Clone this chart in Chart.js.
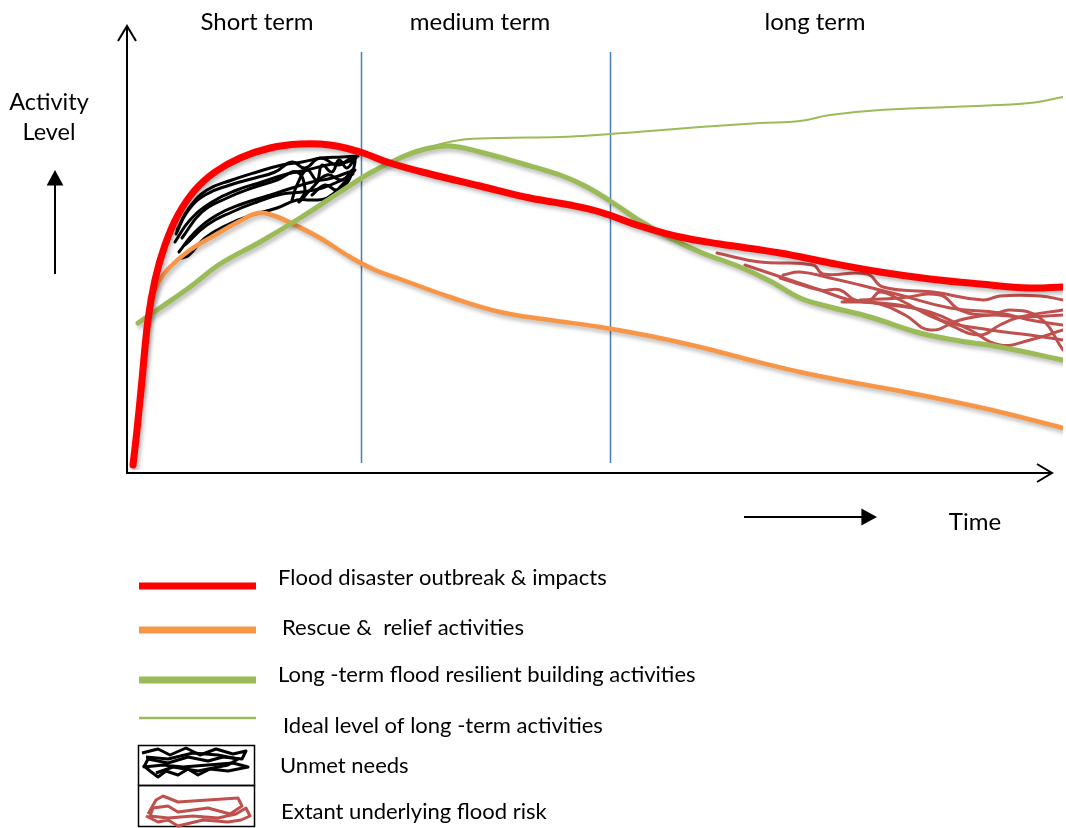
<!DOCTYPE html>
<html>
<head>
<meta charset="utf-8">
<script src="https://cdn.jsdelivr.net/npm/chart.js@4.4.1/dist/chart.umd.min.js"></script>
<style>
html,body{margin:0;padding:0;background:#fff;}
canvas{display:block;}
</style>
</head>
<body>
<canvas id="c" width="1066" height="828"></canvas>
<script>
// ---- DATA (time units, activity units) ----
const phaseLabels = ["Short term", "medium term", "long term"];
const phaseLabelX = [130, 353, 688];
const phaseBoundaries = [234, 483];

const floodImpact = [[6,5],[10,40],[15,90],[21,150],[28,190],[38,225],[51,255],[68,280],[88,298],[113,312],[143,322],[173,326],[203,325],[233,318],[263,307],[303,296],[353,284],[403,272],[443,265],[473,258],[513,244],[553,233],[593,226],[653,217],[703,207],[753,198],[803,191],[853,186],[903,182],[936,183]];
const rescueRelief = [[13,75],[17,120],[23,165],[31,187],[43,203],[63,220],[88,235],[113,249],[131,257],[148,254],[168,245],[193,232],[223,213],[248,200],[273,191],[323,173],[373,158],[423,150],[473,143],[523,134],[573,123],[623,110],[673,98],[723,88],[773,79],[823,69],[873,58],[936,42]];
const resilientBuilding = [[11,147],[33,162],[63,183],[93,206],[133,228],[173,252],[213,278],[243,297],[273,312],[298,321],[323,324],[353,318],[393,307],[433,295],[458,284],[483,269],[513,249],[543,232],[573,218],[613,203],[643,189],[673,172],[703,163],[743,153],[793,137],[833,129],[873,123],[936,110]];
const idealLevel = [[273,312],[303,323],[333,330],[373,332],[433,333],[483,336],[523,339],[573,343],[633,347],[673,349],[703,355],[753,360],[823,363],[903,367],[936,373]];

const unmetNeeds = [
  [[50,240],[62,262],[80,280],[105,290],[130,298],[155,305],[175,308],[195,312],[215,313],[231,314]],
  [[48,228],[63,250],[85,268],[110,280],[135,288],[160,296],[180,300],[200,305],[220,308],[229,312]],
  [[52,218],[68,238],[90,255],[115,266],[140,274],[165,282],[185,288],[205,292],[222,298]],
  [[228,300],[215,285],[200,272],[185,270],[170,270],[150,262],[125,255],[100,245],[78,232],[62,215],[55,212]],
  [[165,270],[170,285],[180,300],[190,290],[195,305],[205,298],[212,310],[220,302],[228,312],[222,290],[210,280],[198,285],[185,275]],
  [[55,232],[75,258],[100,272],[125,282],[150,290],[170,298],[178,280],[172,268],[185,282],[200,295],[215,290],[225,300]],
  [[49,236],[60,258],[78,275],[103,285],[128,292],[148,298],[165,308],[178,302],[193,312],[211,305],[225,313]],
  [[58,225],[80,245],[105,258],[130,268],[155,276],[175,278],[195,282],[215,290],[226,296]]
];
const floodRisk = [
  [[590,217],[633,208],[686,205],[696,196],[740,196],[756,183],[806,178],[856,170],[873,174],[913,174],[936,170]],
  [[618,205],[663,190],[693,180],[723,170],[753,166],[778,155],[803,140],[833,150],[863,155],[893,153],[936,155]],
  [[656,195],[673,198],[703,192],[733,185],[773,175],[823,162],[873,157],[903,150],[936,145]],
  [[653,192],[693,180],[713,180],[728,170],[743,170],[753,178],[773,170],[813,150],[863,140],[903,135],[936,130]],
  [[715,168],[753,167],[793,160],[823,145],[853,135],[873,145],[893,153],[936,160]],
  [[718,170],[763,165],[803,158],[843,140],[873,125],[903,130],[936,140]],
  [[733,170],[773,172],[813,175],[833,160],[863,155],[883,160],[913,152],[936,120]]
];

const legendItems = [
  {text:"Flood disaster outbreak & impacts", color:"#ff0000", width:7},
  {text:"Rescue &  relief activities", color:"#f79646", width:7},
  {text:"Long -term flood resilient building activities", color:"#9bbb59", width:7},
  {text:"Ideal level of long -term activities", color:"#9bbb59", width:2.5}
];
const legendBoxItems = ["Unmet needs", "Extant underlying flood risk"];

const FONT = "Lato, 'Open Sans', sans-serif";
const toPts = a => a.map(p => ({x:p[0], y:p[1]}));

const datasets = [];
datasets.push({label:"Flood disaster outbreak & impacts", data:toPts(floodImpact), borderColor:"#ff0000", borderWidth:7, tension:0.4, order:0, shadow:true});
datasets.push({label:"Ideal level of long-term activities", data:toPts(idealLevel), borderColor:"#9bbb59", borderWidth:2, tension:0.4, order:1});
datasets.push({label:"Long-term flood resilient building activities", data:toPts(resilientBuilding), borderColor:"#9bbb59", borderWidth:5, tension:0.4, order:2, shadow:true});
datasets.push({label:"Rescue & relief activities", data:toPts(rescueRelief), borderColor:"#f79646", borderWidth:4.5, tension:0.4, order:3, shadow:true});
unmetNeeds.forEach((s,i)=>datasets.push({label:"Unmet needs "+i, data:toPts(s), borderColor:"#000000", borderWidth:3, tension:0.45, order:5}));
floodRisk.forEach((s,i)=>datasets.push({label:"Flood risk "+i, data:toPts(s), borderColor:"#c0504d", borderWidth:3, tension:0.45, order:5}));

function arrowOpen(ctx, x, y, dir, size){
  ctx.beginPath();
  if(dir==='up'){ ctx.moveTo(x-size*0.9, y+size*1.5); ctx.lineTo(x, y); ctx.lineTo(x+size*0.9, y+size*1.5); }
  else { ctx.moveTo(x-size*1.5, y-size*0.9); ctx.lineTo(x, y); ctx.lineTo(x-size*1.5, y+size*0.9); }
  ctx.stroke();
}
function arrowFilled(ctx, x, y, dir, size){
  ctx.beginPath();
  if(dir==='up'){ ctx.moveTo(x, y); ctx.lineTo(x-size*0.7, y+size*1.3); ctx.lineTo(x+size*0.7, y+size*1.3); }
  else { ctx.moveTo(x, y); ctx.lineTo(x-size*1.3, y-size*0.7); ctx.lineTo(x-size*1.3, y+size*0.7); }
  ctx.closePath(); ctx.fill();
}

const decor = {
  id:'decor',
  beforeDatasetsDraw(chart){
    const {ctx, chartArea:a, scales:{x,y}} = chart;
    ctx.save();
    ctx.strokeStyle = "#4a7ebb"; ctx.lineWidth = 1.5;
    phaseBoundaries.forEach(b=>{
      const px = Math.round(x.getPixelForValue(b))+0.5;
      ctx.beginPath(); ctx.moveTo(px, y.getPixelForValue(418)); ctx.lineTo(px, y.getPixelForValue(7)); ctx.stroke();
    });
    ctx.restore();
  },
  beforeDatasetDraw(chart, args){
    const ds = chart.data.datasets[args.index];
    const ctx = chart.ctx;
    ctx.save();
    if(ds.shadow){ ctx.shadowColor="rgba(0,0,0,0.28)"; ctx.shadowBlur=4; ctx.shadowOffsetX=2; ctx.shadowOffsetY=3; }
  },
  afterDatasetDraw(chart){ chart.ctx.restore(); },
  afterDraw(chart){
    const {ctx, chartArea:a, scales:{x,y}} = chart;
    ctx.save();
    // axes
    const ox = a.left, oy = a.bottom + 3;
    ctx.strokeStyle="#000"; ctx.lineWidth=2;
    ctx.beginPath(); ctx.moveTo(ox, oy+1); ctx.lineTo(ox, 26); ctx.stroke();
    ctx.beginPath(); ctx.moveTo(ox-1, oy); ctx.lineTo(1052, oy); ctx.stroke();
    ctx.lineWidth=2;
    arrowOpen(ctx, ox, 26, 'up', 10);
    arrowOpen(ctx, 1052, oy, 'right', 10);
    // phase labels
    ctx.fillStyle="#000"; ctx.font="24px "+FONT; ctx.textAlign="center"; ctx.textBaseline="middle";
    phaseLabels.forEach((t,i)=>ctx.fillText(t, x.getPixelForValue(phaseLabelX[i]), 22));
    // Activity level
    ctx.font="23.5px "+FONT;
    ctx.fillText("Activity", 49, 102);
    ctx.fillText("Level", 49, 132);
    ctx.lineWidth=2;
    ctx.beginPath(); ctx.moveTo(55, 274); ctx.lineTo(55, 185); ctx.stroke();
    arrowFilled(ctx, 55, 170, 'up', 12);
    // Time
    ctx.font="24px "+FONT;
    ctx.fillText("Time", 975, 522);
    ctx.beginPath(); ctx.moveTo(744, 517); ctx.lineTo(862, 517); ctx.stroke();
    arrowFilled(ctx, 877, 517, 'right', 12);
    // legend
    ctx.textAlign="left"; ctx.font="22px "+FONT;
    const ly = [586, 630, 680, 718];
    const ty = [578, 628, 675, 726];
    const tx = [278, 282, 278, 283];
    legendItems.forEach((it,i)=>{
      ctx.strokeStyle=it.color; ctx.lineWidth=it.width;
      ctx.beginPath(); ctx.moveTo(139, ly[i]); ctx.lineTo(256, ly[i]); ctx.stroke();
      ctx.fillStyle="#000"; ctx.fillText(it.text, tx[i], ty[i]);
    });
    // legend boxes
    ctx.strokeStyle="#000"; ctx.lineWidth=1.5;
    ctx.strokeRect(138.5, 745.5, 116, 40);
    ctx.strokeRect(138.5, 785.5, 116, 41);
    // scribble samples (relative offsets inside boxes)
    const scrib = (x0, y0, pts, color) => {
      ctx.strokeStyle=color; ctx.lineWidth=3; ctx.lineJoin="round";
      ctx.beginPath(); pts.forEach((p,i)=> i? ctx.lineTo(x0+p[0], y0+p[1]) : ctx.moveTo(x0+p[0], y0+p[1])); ctx.stroke();
    };
    scrib(138, 745, [[4,8],[20,4],[32,10],[48,3],[62,10],[78,4],[95,9],[108,6],[104,14],[85,12],[70,16],[50,12],[30,18],[10,14],[6,22],[25,20],[45,22],[70,20],[95,18],[110,22],[90,26],[72,24],[60,30],[50,24],[40,30],[28,26],[20,32],[12,26],[5,20]], "#000");
    scrib(138, 745, [[8,12],[30,14],[55,8],[80,10],[100,14],[90,20],[60,26],[35,22],[18,28]], "#000");
    scrib(138, 786, [[10,28],[18,14],[25,10],[40,16],[70,14],[100,12],[104,20],[92,28],[70,22],[40,26],[30,20],[15,22],[12,30],[30,32],[55,30],[80,32],[98,28],[108,22],[112,30],[103,34],[90,36],[65,34],[40,40],[30,34],[20,36],[8,30]], "#c0504d");
    ctx.fillStyle="#000";
    ctx.fillText(legendBoxItems[0], 280, 766);
    ctx.fillText(legendBoxItems[1], 281, 812);
    ctx.restore();
  }
};

new Chart(document.getElementById('c'), {
  type:'line',
  data:{datasets},
  options:{
    responsive:false,
    animation:false,
    layout:{padding:{left:127, right:3, top:30, bottom:358}},
    elements:{point:{radius:0}, line:{capBezierPoints:true, borderCapStyle:'round', borderJoinStyle:'round'}},
    plugins:{legend:{display:false}, tooltip:{enabled:false}},
    scales:{
      x:{type:'linear', min:0, max:936, display:false},
      y:{type:'linear', min:0, max:440, display:false}
    }
  },
  plugins:[decor]
});
</script>
</body>
</html>
